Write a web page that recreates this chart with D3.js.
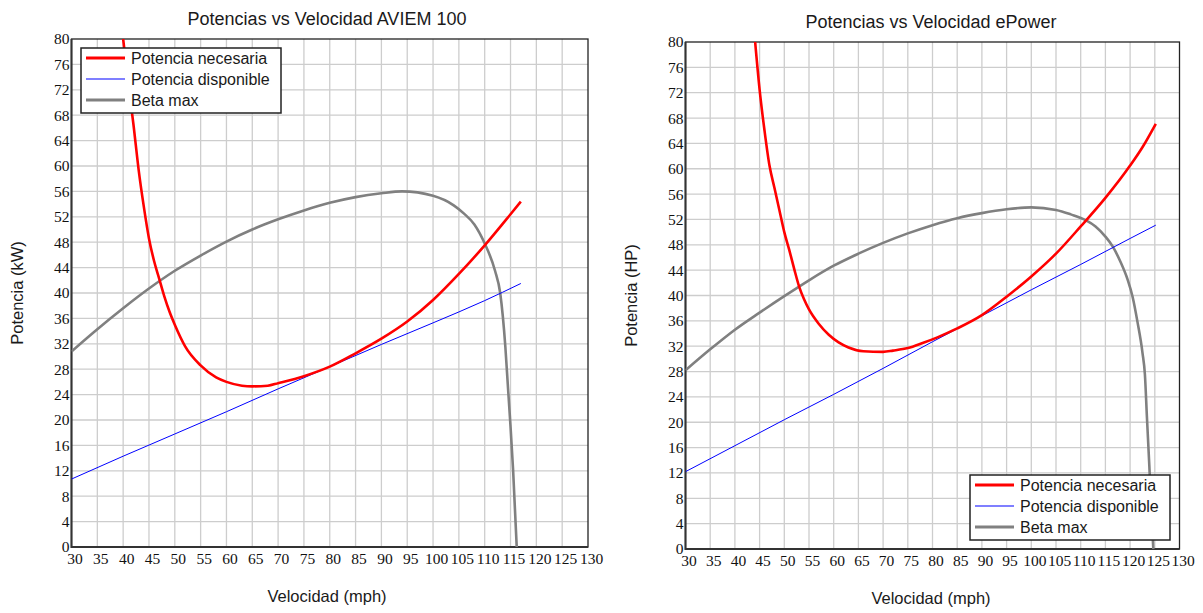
<!DOCTYPE html>
<html>
<head>
<meta charset="utf-8">
<script src="https://cdn.jsdelivr.net/npm/d3@7/dist/d3.min.js"></script>
<style>
  body { margin: 0; background: #fff; }
  .title, .axis-label, .legend text { font-family: "Liberation Sans", Arial, sans-serif; fill: #1a1a1a; }
  g.tick text { font-family: "Liberation Serif", "Times New Roman", serif; fill: #111; }
</style>
</head>
<body>
<svg id="chart" width="1203" height="613"></svg>
<script>
// ---- data ----
var xTicks = d3.range(30, 131, 5)
var yTicks = d3.range(0, 81, 4)
var seriesNames = ["Potencia necesaria", "Potencia disponible", "Beta max"]
var seriesColors = ["#ff0000", "#0000ff", "#808080"]
var seriesWidths = [2.6, 1, 2.6]

// AVIEM 100 (kW)
var aviemNecVel = [40, 41, 42, 43, 44, 45, 46, 47, 48, 49, 50, 52, 55, 58, 60, 63, 65, 68, 70, 75, 80, 85, 90, 95, 100, 105, 110, 115, 117]
var aviemNecPot = [80, 73, 66.5, 59.4, 53.6, 48.6, 45.0, 42.2, 39.4, 37.0, 35.0, 31.6, 28.6, 26.7, 26, 25.4, 25.3, 25.4, 25.8, 26.9, 28.4, 30.5, 32.8, 35.5, 38.9, 43, 47.5, 52.4, 54.4]
var aviemDispVel = [30, 40, 50, 60, 70, 80, 90, 100, 110, 117]
var aviemDispPot = [10.7, 14.3, 17.8, 21.3, 24.9, 28.4, 31.9, 35.3, 38.8, 41.5]
var aviemBetaVel = [30, 35, 40, 45, 50, 55, 60, 65, 70, 75, 80, 85, 90, 94, 100, 104, 106, 108, 110, 112, 113, 114, 114.5, 115, 115.5, 116.2]
var aviemBetaPot = [30.8, 34.3, 37.6, 40.7, 43.5, 45.9, 48.1, 50.0, 51.6, 53.0, 54.2, 55.1, 55.7, 56.0, 55.3, 53.8, 52.5, 50.8, 47.8, 43.5, 40.0, 31.5, 25.2, 19.0, 12.1, 0]

// ePower (HP)
var epowerNecVel = [44.1, 45, 46, 47, 48, 49, 50, 51, 52, 53, 54, 55, 57, 59, 61, 63, 66, 70, 72, 75, 78, 81, 85, 90, 95, 100, 105, 110, 115, 120, 122.5, 125.2]
var epowerNecPot = [80, 72.5, 66, 60.5, 57, 53.5, 50, 47.2, 44.2, 41.4, 39.4, 37.8, 35.5, 33.8, 32.6, 31.8, 31.2, 31.1, 31.3, 31.7, 32.5, 33.4, 34.8, 36.9, 39.8, 43.0, 46.6, 50.9, 55.4, 60.5, 63.4, 67.1]
var epowerDispVel = [30, 40, 50, 60, 70, 80, 90, 100, 110, 120, 125.2]
var epowerDispPot = [12.2, 16.3, 20.4, 24.4, 28.5, 32.7, 36.8, 40.9, 44.9, 49.0, 51.1]
var epowerBetaVel = [30, 35, 40, 45, 50, 55, 60, 65, 70, 75, 80, 85, 90, 95, 100, 105, 108, 111, 113, 115, 116.5, 118, 119.5, 120.5, 121.5, 122.5, 123, 123.4, 123.9, 124.3, 124.7]
var epowerBetaPot = [28.2, 31.5, 34.6, 37.3, 39.9, 42.4, 44.7, 46.6, 48.3, 49.8, 51.1, 52.2, 53.0, 53.6, 53.9, 53.5, 52.8, 51.9, 50.9, 49.3, 47.7, 45.4, 42.5, 39.8, 35.8, 31, 27.5, 20.9, 13, 6, 0]

var svg = d3.select("#chart")
var serifFont = "'Liberation Serif', 'Times New Roman', serif"

function zip(xs, ys) {
    return xs.map((v, i) => ({ v: v, p: ys[i] }))
}

function drawChart(cfg) {
    var x = d3.scaleLinear().domain([30, 130]).range([cfg.left, cfg.right])
    var y = d3.scaleLinear().domain([0, 80]).range([cfg.bottom, cfg.top])
    var g = svg.append("g")

    g.append("rect")
        .attr("x", cfg.left).attr("y", cfg.top)
        .attr("width", cfg.right - cfg.left).attr("height", cfg.bottom - cfg.top)
        .attr("fill", "#fff")

    // grid
    g.append("g").selectAll("line")
        .data(xTicks.slice(1, -1))
        .enter().append("line")
        .attr("x1", d => x(d)).attr("x2", d => x(d))
        .attr("y1", cfg.top).attr("y2", cfg.bottom)
        .attr("stroke", "#cdcdcd").attr("stroke-width", 1.3)
    g.append("g").selectAll("line")
        .data(yTicks.slice(1, -1))
        .enter().append("line")
        .attr("y1", d => y(d)).attr("y2", d => y(d))
        .attr("x1", cfg.left).attr("x2", cfg.right)
        .attr("stroke", "#cdcdcd").attr("stroke-width", 1.3)

    // frame
    g.append("rect")
        .attr("x", cfg.left).attr("y", cfg.top)
        .attr("width", cfg.right - cfg.left).attr("height", cfg.bottom - cfg.top)
        .attr("fill", "none").attr("stroke", "#222").attr("stroke-width", 1.3)
    g.append("path")
        .attr("d", `M${cfg.left},${cfg.top}V${cfg.bottom}H${cfg.right}`)
        .attr("fill", "none").attr("stroke", "#333").attr("stroke-width", 2)

    // axes (labels only)
    var xAxis = g.append("g")
        .attr("transform", `translate(0,${cfg.bottom})`)
        .call(d3.axisBottom(x).tickValues(xTicks).tickSize(0).tickPadding(6).tickFormat(d3.format("d")))
        .attr("font-family", serifFont)
        .attr("font-size", 15.5)
    xAxis.select(".domain").remove()
    xAxis.selectAll("text").attr("dx", 3).style("font-family", serifFont)

    var yAxis = g.append("g")
        .attr("transform", `translate(${cfg.left},0)`)
        .call(d3.axisLeft(y).tickValues(yTicks).tickSize(0).tickPadding(2).tickFormat(d3.format("d")))
        .attr("font-family", serifFont)
        .attr("font-size", 15.5)
    yAxis.select(".domain").remove()
    yAxis.selectAll("text").style("font-family", serifFont)

    // series
    var clipId = "clip-" + cfg.id
    svg.append("clipPath").attr("id", clipId)
        .append("rect")
        .attr("x", cfg.left).attr("y", cfg.top)
        .attr("width", cfg.right - cfg.left).attr("height", cfg.bottom - cfg.top)

    var line = d3.line()
        .x(d => x(d.v))
        .y(d => y(d.p))
        .curve(d3.curveMonotoneX)

    var lines = g.append("g").attr("clip-path", `url(#${clipId})`)
    // draw order: beta, disponible, necesaria on top
    ;[2, 1, 0].forEach(i => {
        lines.append("path")
            .datum(cfg.series[i])
            .attr("d", line)
            .attr("fill", "none")
            .attr("stroke", seriesColors[i])
            .attr("stroke-width", seriesWidths[i])
            .attr("stroke-linejoin", "round")
    })

    // titles
    g.append("text")
        .attr("class", "title")
        .attr("x", cfg.titleX)
        .attr("y", cfg.top - 14)
        .attr("text-anchor", "middle")
        .attr("font-size", 18)
        .text(cfg.title)

    g.append("text")
        .attr("class", "axis-label")
        .attr("x", cfg.titleX)
        .attr("y", cfg.bottom + 55)
        .attr("text-anchor", "middle")
        .attr("font-size", 16.5)
        .text("Velocidad (mph)")

    g.append("text")
        .attr("class", "axis-label")
        .attr("transform", `translate(${cfg.left - 49},${(cfg.top + cfg.bottom) / 2}) rotate(-90)`)
        .attr("text-anchor", "middle")
        .attr("font-size", 16.5)
        .text(cfg.yLabel)

    // legend
    var lg = g.append("g")
        .attr("class", "legend")
        .attr("transform", `translate(${cfg.legendX},${cfg.legendY})`)
    lg.append("rect")
        .attr("width", 200).attr("height", 65)
        .attr("fill", "#fff").attr("stroke", "#222").attr("stroke-width", 1.5)
    var rows = lg.selectAll(".row")
        .data(seriesNames)
        .enter().append("g")
        .attr("class", "row")
        .attr("transform", (d, i) => `translate(0,${10 + i * 21})`)
    rows.append("line")
        .attr("x1", 5).attr("x2", 44)
        .attr("stroke", (d, i) => seriesColors[i])
        .attr("stroke-width", (d, i) => seriesWidths[i] === 1 ? 1.2 : 3)
    rows.append("text")
        .attr("x", 50).attr("y", 6)
        .attr("font-size", 16)
        .text(d => d)
}

drawChart({
    id: "aviem",
    title: "Potencias vs Velocidad AVIEM 100",
    yLabel: "Potencia (kW)",
    titleX: 327,
    left: 71.5, right: 588, top: 39, bottom: 547,
    legendX: 81, legendY: 48,
    series: [zip(aviemNecVel, aviemNecPot), zip(aviemDispVel, aviemDispPot), zip(aviemBetaVel, aviemBetaPot)]
})

drawChart({
    id: "epower",
    title: "Potencias vs Velocidad ePower",
    yLabel: "Potencia (HP)",
    titleX: 931,
    left: 685.5, right: 1179.5, top: 42, bottom: 549,
    legendX: 970, legendY: 475,
    series: [zip(epowerNecVel, epowerNecPot), zip(epowerDispVel, epowerDispPot), zip(epowerBetaVel, epowerBetaPot)]
})
</script>
</body>
</html>
